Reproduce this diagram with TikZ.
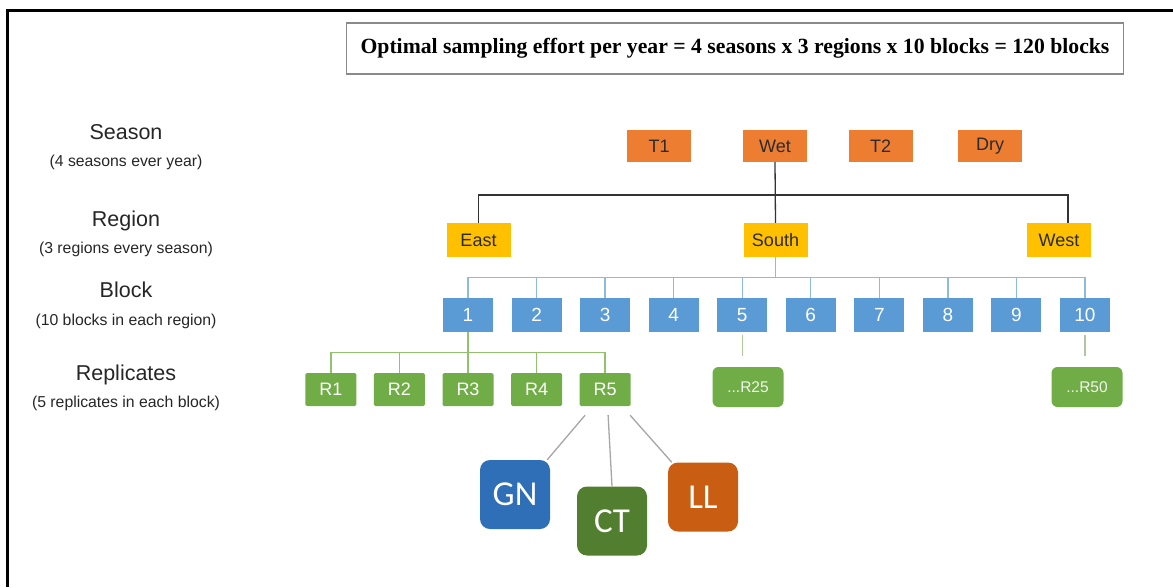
\documentclass[tikz,border=0pt]{standalone}
\usepackage{fontspec}
\setmainfont{Liberation Sans}
\newfontfamily\titlefont{Liberation Serif}
\newfontfamily\leaffont{Carlito}
\usetikzlibrary{calc}

\definecolor{seasonorange}{HTML}{ED7D31}
\definecolor{regionyellow}{HTML}{FFC000}
\definecolor{blockblue}{HTML}{5B9BD5}
\definecolor{repgreen}{HTML}{70AD47}
\definecolor{gnblue}{HTML}{2E6FB7}
\definecolor{ctgreen}{HTML}{517F2F}
\definecolor{llorange}{HTML}{C95E12}
\definecolor{darktext}{HTML}{2B2B2B}
\definecolor{titlegray}{HTML}{8A8A8A}
\definecolor{bluewire}{HTML}{8DB9E2}
\definecolor{greenwire}{HTML}{93C26E}
\definecolor{stubwire}{HTML}{AFC79A}
\definecolor{leafwire}{HTML}{A6A6A6}

\tikzset{
  box/.style={inner sep=0pt, font=\fontsize{18}{18}\selectfont},
  seasonbox/.style={box, fill=seasonorange, text=darktext, minimum width=64pt, minimum height=32pt},
  regionbox/.style={box, fill=regionyellow, text=darktext, minimum width=64pt, minimum height=34pt},
  blockbox/.style={box, fill=blockblue, text=white, minimum width=50pt, minimum height=34pt,
    font=\fontsize{19}{19}\selectfont},
  repbox/.style={box, fill=repgreen, text=white, rounded corners=1.5pt, minimum width=51pt, minimum height=33pt},
  morebox/.style={box, fill=repgreen, text=white!90!repgreen, rounded corners=6pt,
    minimum width=71pt, minimum height=40pt, font=\fontsize{15.5}{15.5}\selectfont},
  leafbox/.style={inner sep=0pt, text=white, rounded corners=10pt, minimum width=70pt,
    minimum height=69pt, font=\leaffont\fontsize{35}{35}\selectfont},
  levelname/.style={font=\fontsize{21.5}{21.5}\selectfont, text=black!85},
  levelnote/.style={font=\fontsize{15.8}{15.8}\selectfont, text=black!85},
  regionline/.style={draw=black!80, line width=1.3pt},
  blockline/.style={draw=bluewire, line width=1.3pt},
  repline/.style={draw=greenwire, line width=1.3pt},
  stubline/.style={draw=stubwire, line width=1.3pt},
  leafline/.style={draw=leafwire, line width=1.3pt}
}

\begin{document}
\begin{tikzpicture}[x=1pt, y=-1pt]

  \useasboundingbox (0,0) rectangle (1173,587);

  % Frame
  \draw[line width=3pt] (7.5,587) -- (7.5,10) -- (1173,10);

  % Title
  \node[draw=titlegray, line width=1.2pt, minimum width=777pt, minimum height=51pt,
    font=\titlefont\bfseries\fontsize{21.7}{21.7}\selectfont] (title) at (735,48.5)
    {Optimal sampling effort per year = 4 seasons x 3 regions x 10 blocks = 120 blocks};

  % Level names
  \node[levelname] (seasonname) at (126,132) {Season};
  \node[levelnote] (seasonnote) at (126,162) {(4 seasons ever year)};
  \node[levelname] (regionname) at (126,221) {Region};
  \node[levelnote] (regionnote) at (126,249) {(3 regions every season)};
  \node[levelname] (blockname) at (126,290) {Block};
  \node[levelnote] (blocknote) at (126,321) {(10 blocks in each region)};
  \node[levelname] (repname) at (126,375) {Replicates};
  \node[levelnote] (repnote) at (126,403) {(5 replicates in each block)};

  % Seasons
  \node[seasonbox] (t1)  at (659,146)   {T1};
  \node[seasonbox] (wet) at (775,146)   {Wet};
  \node[seasonbox] (t2)  at (880.5,146) {T2};
  \node[seasonbox] (dry) at (990,146)   {Dry};

  % Regions
  \node[regionbox] (east)  at (478.5,240) {East};
  \node[regionbox] (south) at (775.5,240) {South};
  \node[regionbox] (west)  at (1059,240)  {West};

  \draw[regionline] (wet.south) -- (south.north);
  \draw[regionline] (east.north) |- ($(wet.south)!.54!(south.north)$) -| ([xshift=9pt]west.north);

  % Blocks
  \foreach \i in {1,...,10}
    \node[blockbox] (b\i) at ({468+(\i-1)*68.55},315) {\i};

  \coordinate (bbar) at ($(south.south)+(0,20)$);
  \draw[blockline] (south.south) -- (bbar);
  \draw[blockline] (b1.north) |- (bbar) -| (b10.north);
  \foreach \i in {2,...,9}
    \draw[blockline] (b\i.north) -- (b\i.north |- bbar);

  % Replicates
  \foreach \i in {1,...,5}
    \node[repbox] (r\i) at ({468+(\i-3)*68.55},389.5) {R\i};
  \node[morebox] (r25) at (748,387)  {...R25};
  \node[morebox] (r50) at (1087,387) {...R50};

  \coordinate (rbar) at ($(b1.south)+(0,20)$);
  \draw[repline] (b1.south) -- (r3.north);
  \draw[repline] (r1.north) |- (rbar) -| (r5.north);
  \foreach \i in {2,4}
    \draw[repline] (r\i.north) -- (r\i.north |- rbar);

  \draw[stubline] ([yshift=-3pt]b5.south) -- ([yshift=-24pt]b5.south);
  \draw[stubline] ([yshift=-3pt]b10.south) -- ([yshift=-24pt]b10.south);

  % Gear types
  \node[leafbox, fill=gnblue]   (gn) at (515,494.5) {GN};
  \node[leafbox, fill=ctgreen]  (ct) at (612,521)   {CT};
  \node[leafbox, fill=llorange] (ll) at (703,497)   {LL};

  \draw[leafline] ([xshift=-20pt,yshift=-9pt]r5.south) -- ([xshift=-3pt]gn.north east);
  \draw[leafline] ([xshift=3pt,yshift=-9pt]r5.south) -- (ct.north);
  \draw[leafline] ([xshift=25pt,yshift=-9pt]r5.south) -- ([xshift=4pt]ll.north west);

\end{tikzpicture}
\end{document}
